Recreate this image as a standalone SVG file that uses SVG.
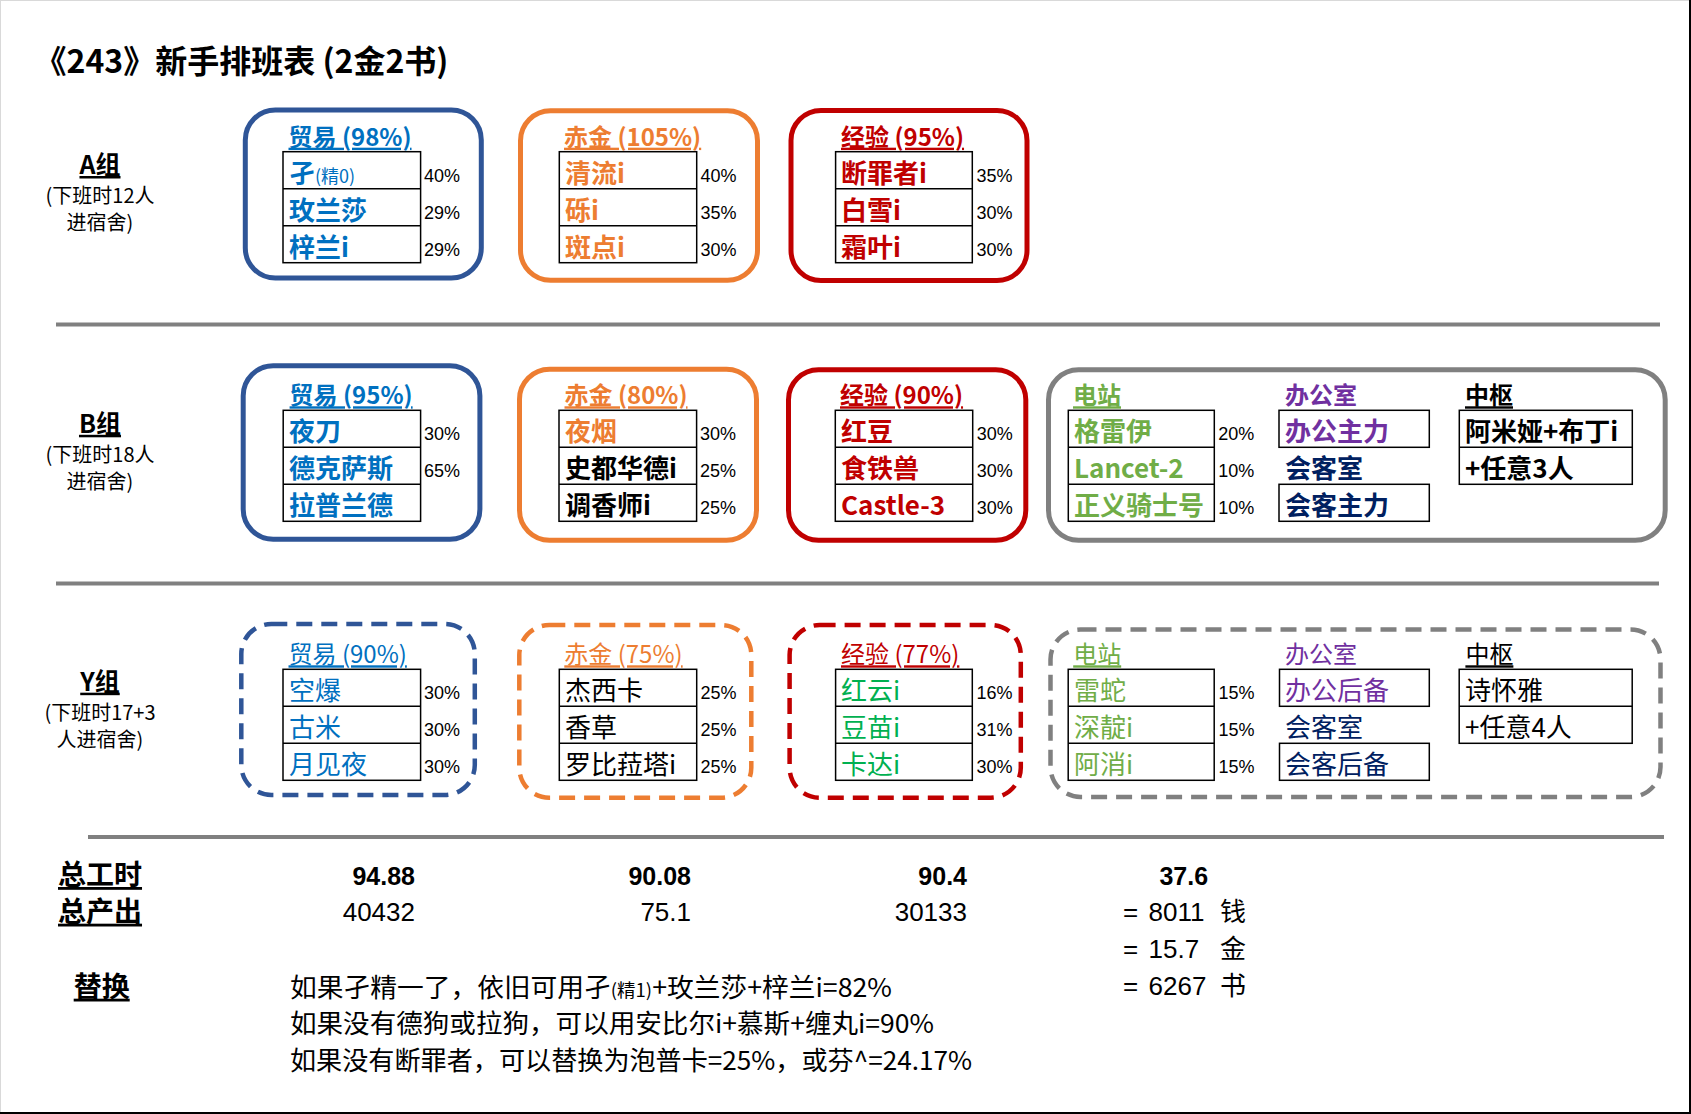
<svg xmlns="http://www.w3.org/2000/svg" width="1691" height="1114" viewBox="0 0 1691 1114">
<style>
text { font-family: "Noto Sans CJK SC", "Noto Sans", sans-serif; }
.num { font-family: "Liberation Sans", Arial, sans-serif; }
.pct { font-family: "Liberation Sans", Arial, sans-serif; font-size: 18px; fill: #000; }
.row { font-size: 26px; font-weight: 700; }
.rowy { font-size: 26px; font-weight: 400; }
.ttl { font-size: 24px; font-weight: 700; text-decoration: underline; }
.ttly { font-size: 24px; font-weight: 400; text-decoration: underline; }
.hd { font-size: 24px; }
.cell { fill: none; stroke: #000; stroke-width: 1.5; }
.box { fill: none; stroke-width: 5; }
.dbox { fill: none; stroke-width: 4.5; stroke-dasharray: 16 9; }
.sep { stroke: #808080; stroke-width: 4; }
.blue { fill: #0070C0; } .orange { fill: #ED7D31; } .red { fill: #C00000; }
.green { fill: #70AD47; } .green2 { fill: #00B050; } .purple { fill: #7030A0; } .navy { fill: #002060; } .black { fill: #000; }
.grp { font-size: 25px; font-weight: 700; text-decoration: underline; text-anchor: middle; }
.grpsub { font-size: 20px; text-anchor: middle; }
.lbl { font-size: 28px; font-weight: 700; text-decoration: underline; }
.big { font-size: 25px; font-weight: 700; }
.val { font-size: 26px; }
.note { font-size: 26px; }
.small { font-size: 18px; font-weight: 400; }
</style>
<rect x="0" y="0" width="1691" height="1114" fill="#fff"/>
<g id="frame">
<line x1="0.5" y1="0" x2="0.5" y2="1114" stroke="#d9d9d9" stroke-width="1"/>
<line x1="0" y1="0.5" x2="1691" y2="0.5" stroke="#d9d9d9" stroke-width="1"/>
<line x1="1690" y1="0" x2="1690" y2="1114" stroke="#000" stroke-width="2"/>
<line x1="0" y1="1113" x2="1691" y2="1113" stroke="#000" stroke-width="2"/>
</g>
<text x="34.5" y="73" font-size="32" font-weight="700">《243》新手排班表 (2金2书)</text>

<g id="group-labels">
<text class="grp" x="100" y="174">A组</text>
<text class="grpsub" x="100" y="202.7">(下班时12人</text>
<text class="grpsub" x="100" y="230">进宿舍)</text>
<text class="grp" x="100" y="432.8">B组</text>
<text class="grpsub" x="100" y="461.5">(下班时18人</text>
<text class="grpsub" x="100" y="488.8">进宿舍)</text>
<text class="grp" x="100" y="690.7">Y组</text>
<text class="grpsub" x="100" y="720">(下班时17+3</text>
<text class="grpsub" x="100" y="746.7">人进宿舍)</text>
</g>

<g id="lines">
<line class="sep" x1="56" y1="324.6" x2="1660" y2="324.6"/>
<line class="sep" x1="56" y1="583.4" x2="1659" y2="583.4"/>
<line class="sep" x1="88" y1="837" x2="1664" y2="837"/>
</g>

<!-- A row -->
<g id="A-trade">
<rect class="box" x="245.3" y="110" width="236" height="168" rx="30" stroke="#2F5597"/>
<text class="ttl blue" x="288.5" y="145.7">贸易 (98%)</text>
<rect class="cell" x="283" y="151.7" width="137.6" height="111"/>
<line class="cell" x1="283" y1="188.7" x2="420.6" y2="188.7"/>
<line class="cell" x1="283" y1="225.7" x2="420.6" y2="225.7"/>
<text class="row blue" x="289" y="182.7">孑<tspan class="small">(精0)</tspan></text>
<text class="row blue" x="289" y="219.7">玫兰莎</text>
<text class="row blue" x="289" y="256.7">梓兰i</text>
<text class="pct" x="424" y="181.7">40%</text>
<text class="pct" x="424" y="218.7">29%</text>
<text class="pct" x="424" y="255.7">29%</text>
</g>
<g id="A-gold">
<rect class="box" x="520.5" y="110.8" width="237" height="169.5" rx="30" stroke="#ED7D31"/>
<text class="ttl orange" x="564" y="145.7">赤金 (105%)</text>
<rect class="cell" x="559.3" y="151.7" width="137.4" height="111"/>
<line class="cell" x1="559.3" y1="188.7" x2="696.7" y2="188.7"/>
<line class="cell" x1="559.3" y1="225.7" x2="696.7" y2="225.7"/>
<text class="row orange" x="565" y="182.7">清流i</text>
<text class="row orange" x="565" y="219.7">砾i</text>
<text class="row orange" x="565" y="256.7">斑点i</text>
<text class="pct" x="700.6" y="181.7">40%</text>
<text class="pct" x="700.6" y="218.7">35%</text>
<text class="pct" x="700.6" y="255.7">30%</text>
</g>
<g id="A-exp">
<rect class="box" x="791" y="110.5" width="236" height="170" rx="30" stroke="#C00000"/>
<text class="ttl red" x="841" y="145.7">经验 (95%)</text>
<rect class="cell" x="835.6" y="151.7" width="136.7" height="111"/>
<line class="cell" x1="835.6" y1="188.7" x2="972.3" y2="188.7"/>
<line class="cell" x1="835.6" y1="225.7" x2="972.3" y2="225.7"/>
<text class="row red" x="841" y="182.7">断罪者i</text>
<text class="row red" x="841" y="219.7">白雪i</text>
<text class="row red" x="841" y="256.7">霜叶i</text>
<text class="pct" x="976.6" y="181.7">35%</text>
<text class="pct" x="976.6" y="218.7">30%</text>
<text class="pct" x="976.6" y="255.7">30%</text>
</g>

<!-- B row -->
<g id="B-trade">
<rect class="box" x="243.2" y="365.8" width="236.7" height="173.4" rx="30" stroke="#2F5597"/>
<text class="ttl blue" x="289.6" y="404.3">贸易 (95%)</text>
<rect class="cell" x="283.2" y="410.3" width="137.4" height="111"/>
<line class="cell" x1="283.2" y1="447.3" x2="420.6" y2="447.3"/>
<line class="cell" x1="283.2" y1="484.3" x2="420.6" y2="484.3"/>
<text class="row blue" x="289" y="441.3">夜刀</text>
<text class="row blue" x="289" y="478.3">德克萨斯</text>
<text class="row blue" x="289" y="515.3">拉普兰德</text>
<text class="pct" x="424" y="440.3">30%</text>
<text class="pct" x="424" y="477.3">65%</text>
</g>
<g id="B-gold">
<rect class="box" x="519.5" y="369.2" width="237" height="171" rx="30" stroke="#ED7D31"/>
<text class="ttl orange" x="564.5" y="404.3">赤金 (80%)</text>
<rect class="cell" x="559" y="410.3" width="137.6" height="111"/>
<line class="cell" x1="559" y1="447.3" x2="696.6" y2="447.3"/>
<line class="cell" x1="559" y1="484.3" x2="696.6" y2="484.3"/>
<text class="row orange" x="565" y="441.3">夜烟</text>
<text class="row black" x="565" y="478.3">史都华德i</text>
<text class="row black" x="565" y="515.3">调香师i</text>
<text class="pct" x="700" y="440.3">30%</text>
<text class="pct" x="700" y="477.3">25%</text>
<text class="pct" x="700" y="514.3">25%</text>
</g>
<g id="B-exp">
<rect class="box" x="788.5" y="369.8" width="237.3" height="170.4" rx="30" stroke="#C00000"/>
<text class="ttl red" x="840" y="404.3">经验 (90%)</text>
<rect class="cell" x="835.3" y="410.3" width="137.4" height="111"/>
<line class="cell" x1="835.3" y1="447.3" x2="972.7" y2="447.3"/>
<line class="cell" x1="835.3" y1="484.3" x2="972.7" y2="484.3"/>
<text class="row red" x="841" y="441.3">红豆</text>
<text class="row red" x="841" y="478.3">食铁兽</text>
<text class="row red" x="841" y="515.3">Castle-3</text>
<text class="pct" x="976.7" y="440.3">30%</text>
<text class="pct" x="976.7" y="477.3">30%</text>
<text class="pct" x="976.7" y="514.3">30%</text>
</g>
<g id="B-other">
<rect class="box" x="1048.5" y="369.8" width="616.7" height="170.4" rx="30" stroke="#808080"/>
<text class="ttl green" x="1073" y="404.3">电站</text>
<rect class="cell" x="1068.3" y="410.3" width="146" height="111"/>
<line class="cell" x1="1068.3" y1="447.3" x2="1214.3" y2="447.3"/>
<line class="cell" x1="1068.3" y1="484.3" x2="1214.3" y2="484.3"/>
<text class="row green" x="1074" y="441.3">格雷伊</text>
<text class="row green" x="1074" y="478.3">Lancet-2</text>
<text class="row green" x="1074" y="515.3">正义骑士号</text>
<text class="pct" x="1218.3" y="440.3">20%</text>
<text class="pct" x="1218.3" y="477.3">10%</text>
<text class="pct" x="1218.3" y="514.3">10%</text>
<text class="hd purple" x="1285" y="404.3" font-weight="700">办公室</text>
<rect class="cell" x="1279" y="410.3" width="150.3" height="37"/>
<text class="row purple" x="1285" y="441.3">办公主力</text>
<text class="row navy" x="1285" y="478.3">会客室</text>
<rect class="cell" x="1279" y="484.3" width="150.3" height="37"/>
<text class="row navy" x="1285" y="515.3">会客主力</text>
<text class="ttl black" x="1465" y="404.3">中枢</text>
<rect class="cell" x="1459.3" y="410.3" width="173" height="74"/>
<line class="cell" x1="1459.3" y1="447.3" x2="1632.3" y2="447.3"/>
<text class="row black" x="1465" y="441.3">阿米娅+布丁i</text>
<text class="row black" x="1465" y="478.3">+任意3人</text>
</g>

<!-- Y row -->
<g id="Y-trade">
<rect class="dbox" x="241.3" y="624" width="233.5" height="171" rx="30" stroke="#2F5597"/>
<text class="ttly blue" x="288.5" y="663.3">贸易 (90%)</text>
<rect class="cell" x="283" y="669.3" width="137.6" height="111"/>
<line class="cell" x1="283" y1="706.3" x2="420.6" y2="706.3"/>
<line class="cell" x1="283" y1="743.3" x2="420.6" y2="743.3"/>
<text class="rowy blue" x="289" y="700.3">空爆</text>
<text class="rowy blue" x="289" y="737.3">古米</text>
<text class="rowy blue" x="289" y="774.3">月见夜</text>
<text class="pct" x="424" y="699.3">30%</text>
<text class="pct" x="424" y="736.3">30%</text>
<text class="pct" x="424" y="773.3">30%</text>
</g>
<g id="Y-gold">
<rect class="dbox" x="519.3" y="625" width="232" height="172.7" rx="30" stroke="#ED7D31"/>
<text class="ttly orange" x="564.3" y="663.3">赤金 (75%)</text>
<rect class="cell" x="559.3" y="669.3" width="137.4" height="111"/>
<line class="cell" x1="559.3" y1="706.3" x2="696.7" y2="706.3"/>
<line class="cell" x1="559.3" y1="743.3" x2="696.7" y2="743.3"/>
<text class="rowy black" x="565" y="700.3">杰西卡</text>
<text class="rowy black" x="565" y="737.3">香草</text>
<text class="rowy black" x="565" y="774.3">罗比菈塔i</text>
<text class="pct" x="700.6" y="699.3">25%</text>
<text class="pct" x="700.6" y="736.3">25%</text>
<text class="pct" x="700.6" y="773.3">25%</text>
</g>
<g id="Y-exp">
<rect class="dbox" x="789.6" y="625" width="231.2" height="172.7" rx="30" stroke="#C00000"/>
<text class="ttly red" x="841" y="663.3">经验 (77%)</text>
<rect class="cell" x="835.6" y="669.3" width="136.7" height="111"/>
<line class="cell" x1="835.6" y1="706.3" x2="972.3" y2="706.3"/>
<line class="cell" x1="835.6" y1="743.3" x2="972.3" y2="743.3"/>
<text class="rowy green2" x="841" y="700.3">红云i</text>
<text class="rowy green2" x="841" y="737.3">豆苗i</text>
<text class="rowy green2" x="841" y="774.3">卡达i</text>
<text class="pct" x="976.6" y="699.3">16%</text>
<text class="pct" x="976.6" y="736.3">31%</text>
<text class="pct" x="976.6" y="773.3">30%</text>
</g>
<g id="Y-other">
<rect class="dbox" x="1050.5" y="629.5" width="610" height="167.5" rx="30" stroke="#808080"/>
<text class="ttly green" x="1073.2" y="663.3">电站</text>
<rect class="cell" x="1068.2" y="669.3" width="146" height="111"/>
<line class="cell" x1="1068.2" y1="706.3" x2="1214.2" y2="706.3"/>
<line class="cell" x1="1068.2" y1="743.3" x2="1214.2" y2="743.3"/>
<text class="rowy green" x="1074" y="700.3">雷蛇</text>
<text class="rowy green" x="1074" y="737.3">深靛i</text>
<text class="rowy green" x="1074" y="774.3">阿消i</text>
<text class="pct" x="1218.5" y="699.3">15%</text>
<text class="pct" x="1218.5" y="736.3">15%</text>
<text class="pct" x="1218.5" y="773.3">15%</text>
<text class="hd purple" x="1285" y="663.3">办公室</text>
<rect class="cell" x="1279.5" y="669.3" width="149.8" height="37"/>
<text class="rowy purple" x="1285" y="700.3">办公后备</text>
<text class="rowy navy" x="1285" y="737.3">会客室</text>
<rect class="cell" x="1279.5" y="743.3" width="149.8" height="37"/>
<text class="rowy navy" x="1285" y="774.3">会客后备</text>
<text class="ttly black" x="1465.4" y="663.3">中枢</text>
<rect class="cell" x="1459.2" y="669.3" width="173" height="74"/>
<line class="cell" x1="1459.2" y1="706.3" x2="1632.2" y2="706.3"/>
<text class="rowy black" x="1465" y="700.3">诗怀雅</text>
<text class="rowy black" x="1465" y="737.3">+任意4人</text>
</g>

<g id="summary">
<text class="lbl" x="58" y="885">总工时</text>
<text class="lbl" x="58" y="921.7">总产出</text>
<text class="lbl" x="73.7" y="996.7">替换</text>
<text class="num big" x="415" y="885" text-anchor="end">94.88</text>
<text class="num val" x="415" y="921" text-anchor="end">40432</text>
<text class="num big" x="691" y="885" text-anchor="end">90.08</text>
<text class="num val" x="691" y="921" text-anchor="end">75.1</text>
<text class="num big" x="967" y="885" text-anchor="end">90.4</text>
<text class="num val" x="967" y="921" text-anchor="end">30133</text>
<text class="num big" x="1183.8" y="885" text-anchor="middle">37.6</text>
<text class="num val" x="1123" y="921">=</text>
<text class="num val" x="1148.6" y="921">8011</text>
<text class="val" x="1220" y="921">钱</text>
<text class="num val" x="1123" y="958.3">=</text>
<text class="num val" x="1148.6" y="958.3">15.7</text>
<text class="val" x="1220" y="958.3">金</text>
<text class="num val" x="1123" y="995">=</text>
<text class="num val" x="1148.6" y="995">6267</text>
<text class="val" x="1220" y="995">书</text>
<text class="note" x="290" y="996.7" textLength="602" lengthAdjust="spacingAndGlyphs">如果孑精一了，依旧可用孑<tspan class="small">(精1)</tspan>+玫兰莎+梓兰i=82%</text>
<text class="note" x="290" y="1033.3" textLength="644" lengthAdjust="spacingAndGlyphs">如果没有德狗或拉狗，可以用安比尔i+慕斯+缠丸i=90%</text>
<text class="note" x="290" y="1070" textLength="682" lengthAdjust="spacingAndGlyphs">如果没有断罪者，可以替换为泡普卡=25%，或芬^=24.17%</text>
</g>
</svg>
